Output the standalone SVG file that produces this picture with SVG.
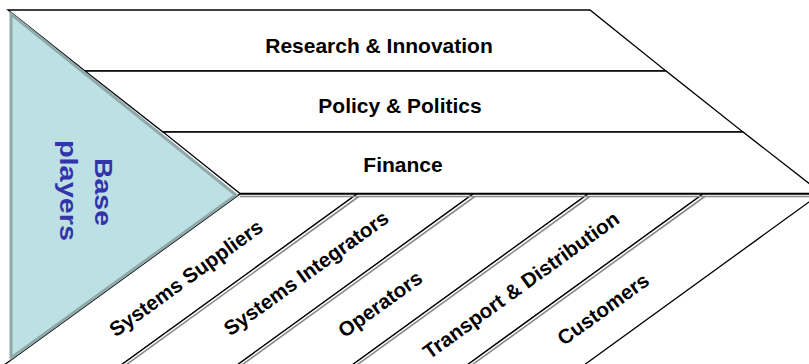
<svg xmlns="http://www.w3.org/2000/svg" width="809" height="364" viewBox="0 0 809 364">
<style>
.band{fill:#ffffff;stroke:#000000;stroke-width:1.3;stroke-linejoin:miter}
.shadow{stroke:#8a8a8a;stroke-width:1.6;fill:none}
.lbl{font-family:"Liberation Sans",Arial,sans-serif;font-weight:bold;font-size:21px;fill:#000000;text-anchor:middle}
.dlbl{font-family:"Liberation Sans",Arial,sans-serif;font-weight:bold;font-size:20.5px;fill:#000000;text-anchor:middle}
.base{font-family:"Liberation Sans",Arial,sans-serif;font-weight:bold;font-size:23px;fill:#3333AA}
</style>
<rect width="809" height="364" fill="#ffffff"/>
<g id="research-innovation">
<polygon class="band" points="8,10 590,10 666,71 85,71"/>
<text class="lbl" x="379" y="53">Research &amp; Innovation</text>
</g>
<g id="policy-politics">
<polygon class="band" points="85,71 666,71 743,132 163,132"/>
<text class="lbl" x="400" y="113">Policy &amp; Politics</text>
</g>
<g id="finance">
<polygon class="band" points="163,132 743,132 822,193.5 240,193.5"/>
<text class="lbl" x="403" y="172">Finance</text>
</g>
<g id="systems-suppliers">
<polygon class="band" points="240,194 357,194 117,368 0,368"/>
<text class="dlbl" transform="translate(186,278) rotate(-35.8)" dy="0.35em">Systems Suppliers</text>
</g>
<g id="systems-integrators">
<polygon class="band" points="357,194 473,194 233,368 117,368"/>
<text class="dlbl" transform="translate(306,273) rotate(-35.8)" dy="0.35em">Systems Integrators</text>
</g>
<g id="operators">
<polygon class="band" points="473,194 588,194 348,368 233,368"/>
<text class="dlbl" transform="translate(380,304) rotate(-35.8)" dy="0.35em">Operators</text>
</g>
<g id="transport-distribution">
<polygon class="band" points="588,194 703,194 463,368 348,368"/>
<text class="dlbl" transform="translate(521,285) rotate(-35.8)" dy="0.35em">Transport &amp; Distribution</text>
</g>
<g id="customers">
<polygon class="band" points="703,194 820,194 580,368 463,368"/>
<text class="dlbl" transform="translate(603,309) rotate(-35.8)" dy="0.35em">Customers</text>
</g>
<g id="connectors">
<line class="shadow" x1="240" y1="196.5" x2="820" y2="196.5"/>
<line class="shadow" x1="358.8" y1="196.5" x2="119" y2="370"/>
<line class="shadow" x1="474.8" y1="196.5" x2="235" y2="370"/>
<line class="shadow" x1="589.8" y1="196.5" x2="350" y2="370"/>
<line class="shadow" x1="704.8" y1="196.5" x2="465" y2="370"/>
</g>
<g id="base-players">
<polygon points="11,14 236,195 11,358" fill="#BCE0E3" stroke="#8FA8A9" stroke-width="3" stroke-linejoin="miter"/>
<text class="base" transform="translate(95,158) rotate(90)" textLength="68" lengthAdjust="spacingAndGlyphs">Base</text>
<text class="base" transform="translate(59.5,140) rotate(90)" textLength="101" lengthAdjust="spacingAndGlyphs">players</text>
</g>
</svg>
